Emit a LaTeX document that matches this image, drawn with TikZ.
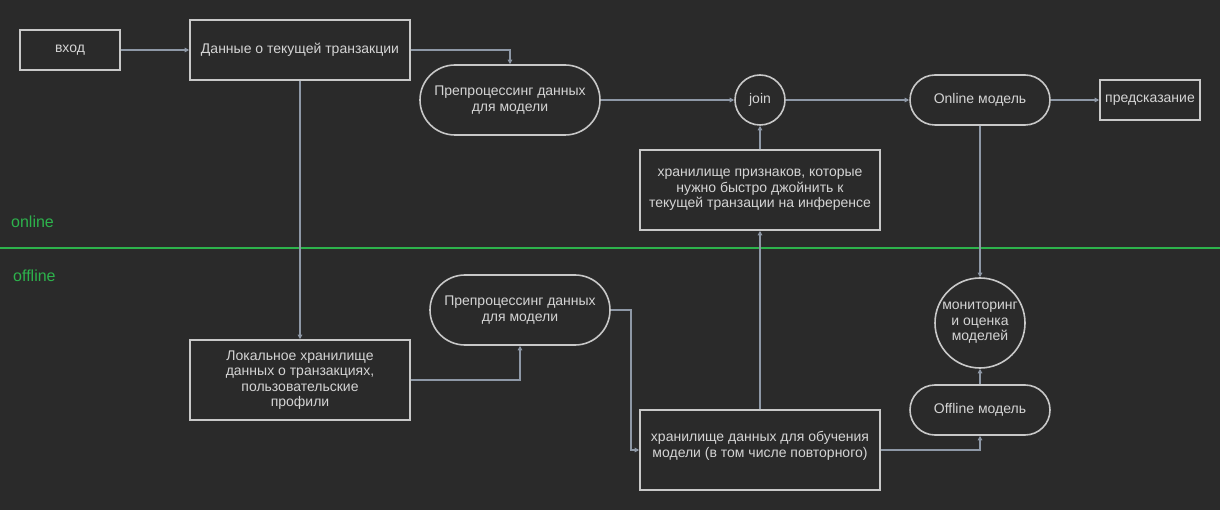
\documentclass[tikz,border=0pt]{standalone}
\usepackage{fontspec}
\setmainfont{Liberation Sans}
\usetikzlibrary{arrows.meta,shapes.geometric}
\definecolor{bg}{HTML}{2A2A2A}
\definecolor{bd}{HTML}{C8C8C8}
\definecolor{tx}{HTML}{D4D4D4}
\definecolor{ln}{HTML}{8E98A6}
\definecolor{gr}{HTML}{2DB34C}
\begin{document}
\begin{tikzpicture}[x=1pt,y=-1pt,
  box/.style={draw=bd,line width=1.6pt,text=tx,font=\fontsize{14}{15.5}\selectfont,align=center,inner sep=0pt},
  circ/.style={box,circle},
  conn/.style={draw=ln,line width=1.4pt,-{Triangle[length=4.5pt,width=4.5pt]}},
  lab/.style={anchor=west,text=gr,font=\fontsize{16}{18}\selectfont,inner sep=0pt}]
\fill[bg] (0,0) rectangle (1220,510);
\useasboundingbox (0,0) rectangle (1220,510);
\draw[gr,line width=2.6pt] (0,248) -- (1220,248);
\node[lab] (onlab) at (11,222) {online};
\node[lab] (offlab) at (13,276) {offline};

\node[box,minimum width=100pt,minimum height=40pt] (vhod) at (70,50) {вход};
\node[box,minimum width=220pt,minimum height=60pt] (cur) at (300,50) {Данные о текущей транзакции};
\node[box,minimum width=180pt,minimum height=70pt,rounded corners=35pt] (pre1) at (510,100) {Препроцессинг данных\\для модели};
\node[circ,minimum size=50pt] (join) at (760,100) {join};
\node[box,minimum width=240pt,minimum height=80pt] (feat) at (760,190) {хранилище признаков, которые\\нужно быстро джойнить к\\текущей транзации на инференсе};
\node[box,minimum width=140pt,minimum height=50pt,rounded corners=25pt] (onl) at (980,100) {Online модель};
\node[box,minimum width=100pt,minimum height=40pt] (pred) at (1150,100) {предсказание};

\node[box,minimum width=220pt,minimum height=80pt] (loc) at (300,380) {Локальное хранилище\\данных о транзакциях,\\пользовательские\\профили};
\node[box,minimum width=180pt,minimum height=70pt,rounded corners=35pt] (pre2) at (520,310) {Препроцессинг данных\\для модели};
\node[box,minimum width=240pt,minimum height=80pt] (train) at (760,450) {хранилище данных для обучения\\модели (в том числе повторного)\\[-4pt]\mbox{}};
\node[circ,minimum size=90pt] (mon) at (980,323) {мониторинг\\и оценка\\моделей};
\node[box,minimum width=140pt,minimum height=50pt,rounded corners=25pt] (off) at (980,410) {Offline модель};

\draw[conn] (vhod) -- (cur);
\draw[conn] (cur.east) -| (pre1.north);
\draw[conn] (cur.south) -- (loc.north);
\draw[conn] (pre1) -- (join);
\draw[conn] (feat) -- (join);
\draw[conn] (join) -- (onl);
\draw[conn] (onl) -- (pred);
\draw[conn] (onl) -- (mon);
\draw[conn] (loc.east) -| (pre2.south);
\draw[conn] (pre2.east) -- ++(20,0) |- (train.west);
\draw[conn] (train) -- (feat);
\draw[conn] (train.east) -| (off.south);
\draw[conn] (off) -- (mon);
\end{tikzpicture}
\end{document}
